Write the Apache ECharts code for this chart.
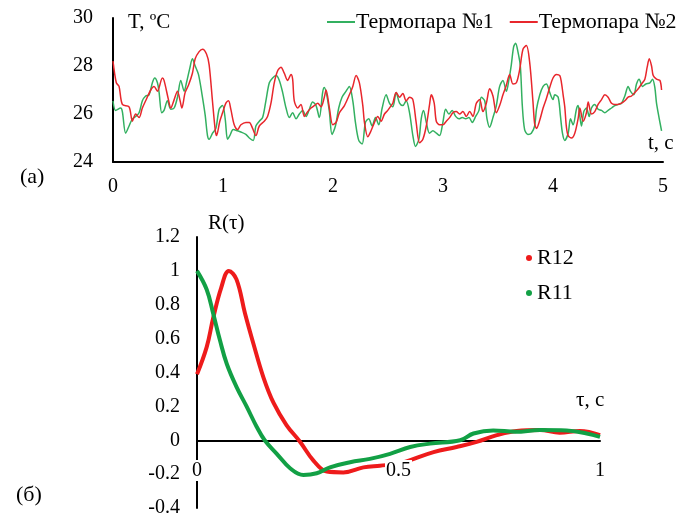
<!DOCTYPE html>
<html>
<head>
<meta charset="utf-8">
<script src="https://cdn.jsdelivr.net/npm/echarts@6/dist/echarts.min.js"></script>
<style>html,body{margin:0;padding:0;background:#fff}#c{width:693px;height:515px}</style>
</head>
<body>
<div id="c"></div>
<script>
// ---- Data ----
const seriesNamesTop = ['Термопара №1', 'Термопара №2'];
const seriesNamesBottom = ['R12', 'R11'];

// Термопара №1 (green): [t, T]
const thermo1 = [[0,26.55],[0.024,26.15],[0.07,26.25],[0.085,26.1],[0.115,25.2],[0.146,25.5],[0.176,25.8],[0.206,25.9],[0.237,26.05],[0.267,26.55],[0.297,26.75],[0.328,26.8],[0.358,27.3],[0.379,27.5],[0.404,27.3],[0.419,26.9],[0.443,26.05],[0.464,26.15],[0.495,26.55],[0.525,26.2],[0.556,26.25],[0.586,26.7],[0.616,27.4],[0.647,26.95],[0.668,27.3],[0.698,27.9],[0.722,28.3],[0.747,28.0],[0.777,27.65],[0.808,26.85],[0.838,25.95],[0.859,25.1],[0.874,24.95],[0.905,25.2],[0.935,25.4],[0.965,26.2],[0.996,26.35],[1.02,25.8],[1.041,24.95],[1.062,25.1],[1.093,25.35],[1.132,25.3],[1.163,25.25],[1.208,25.15],[1.239,25.0],[1.275,24.9],
[1.299,25.5],[1.33,25.7],[1.36,25.85],[1.39,26.55],[1.421,27.3],[1.451,27.5],[1.482,27.6],[1.512,27.4],[1.542,26.9],[1.573,26.25],[1.603,25.85],[1.633,26.05],[1.664,25.8],[1.694,26.0],[1.724,26.15],[1.755,25.9],[1.785,26.2],[1.815,26.5],[1.846,26.35],[1.876,25.85],[1.906,26.9],[1.921,27.1],[1.943,26.8],[1.967,26.1],[1.991,25.15],[2.022,25.5],[2.052,26.25],[2.082,26.7],[2.119,26.95],[2.149,27.15],[2.18,26.55],[2.204,25.65],[2.234,24.9],[2.265,24.75],[2.295,25.65],[2.325,25.8],[2.356,25.5],[2.386,25.85],[2.416,25.55],[2.447,26.25],[2.483,26.8],[2.513,26.45],[2.544,26.3],
[2.574,26.9],[2.605,26.45],[2.635,26.35],[2.665,26.55],[2.696,26.05],[2.726,25.1],[2.75,24.65],[2.781,24.95],[2.802,25.8],[2.823,26.15],[2.848,25.65],[2.878,25.2],[2.908,25.3],[2.939,25.2],[2.969,25.1],[2.999,25.65],[3.024,26.2],[3.054,26.0],[3.084,26.15],[3.115,25.9],[3.145,25.8],[3.175,25.85],[3.206,25.8],[3.236,25.85],[3.266,25.65],[3.297,25.9],[3.327,26.15],[3.348,26.7],[3.379,26.55],[3.4,25.8],[3.424,25.45],[3.454,25.85],[3.485,26.35],[3.515,27.15],[3.545,27.4],[3.576,26.95],[3.6,27.45],[3.621,28.05],[3.642,28.8],[3.66,28.95],[3.681,28.6],[3.703,28.0],[3.721,26.35],[3.742,25.35],[3.772,25.15],[3.803,25.2],[3.833,25.5],
[3.85,26.2],[3.88,26.8],[3.91,27.15],[3.94,27.25],[3.97,26.9],[4.0,26.6],[4.016,26.8],[4.047,26.7],[4.068,25.9],[4.086,25.2],[4.107,24.9],[4.138,25.2],[4.159,25.8],[4.183,25.55],[4.213,26.2],[4.228,26.35],[4.244,25.9],[4.259,25.5],[4.28,26.1],[4.304,26.25],[4.329,25.9],[4.35,26.25],[4.38,26.4],[4.41,26.2],[4.441,26.15],[4.471,26.05],[4.501,26.15],[4.532,26.25],[4.562,26.35],[4.592,26.4],[4.623,26.45],[4.653,26.75],[4.683,27.15],[4.704,26.95],[4.735,26.8],[4.759,27.25],[4.783,27.45],[4.814,27.15],[4.844,27.25],[4.881,27.3],[4.905,27.45],[4.926,27.1],[4.941,26.45],[4.966,25.8],[4.987,25.3]];

// Термопара №2 (red): [t, T]
const thermo2 = [[0,28.2],[0.03,27.3],[0.055,27.15],[0.085,26.4],[0.146,26.3],[0.176,25.7],[0.206,26.0],[0.237,25.85],[0.267,26.25],[0.297,26.55],[0.343,27.0],[0.373,27.15],[0.404,26.95],[0.449,27.5],[0.464,27.4],[0.504,26.6],[0.525,26.25],[0.556,26.6],[0.586,26.95],[0.61,26.55],[0.626,26.25],[0.656,26.9],[0.686,27.2],[0.722,27.7],[0.747,28.3],[0.783,28.6],[0.814,28.7],[0.85,28.5],[0.874,28.05],[0.905,26.5],[0.929,25.35],[0.941,25.1],[0.971,25.7],[0.996,26.05],[1.026,26.45],[1.05,26.55],[1.071,26.2],[1.102,25.55],[1.132,25.35],[1.163,25.55],[1.208,25.65],[1.239,25.65],
[1.269,25.4],[1.299,25.1],[1.33,25.5],[1.375,25.7],[1.405,25.9],[1.436,26.45],[1.466,27.3],[1.497,27.8],[1.527,27.95],[1.557,27.7],[1.588,27.4],[1.618,27.65],[1.633,27.45],[1.648,26.55],[1.679,26.25],[1.709,26.4],[1.739,25.9],[1.77,26.1],[1.8,26.25],[1.83,26.35],[1.861,26.45],[1.891,26.3],[1.921,26.7],[1.937,27.0],[1.967,26.25],[1.998,25.55],[2.028,25.65],[2.058,26.05],[2.104,26.35],[2.149,26.8],[2.18,27.15],[2.21,27.6],[2.24,27.3],[2.271,26.35],[2.286,25.65],[2.316,25.05],[2.346,25.3],[2.377,25.65],[2.407,25.9],[2.437,25.7],[2.468,26.0],[2.498,26.15],[2.529,26.35],
[2.544,26.45],[2.574,26.9],[2.605,26.7],[2.635,26.85],[2.665,26.55],[2.696,26.7],[2.726,26.6],[2.756,25.65],[2.787,24.8],[2.817,24.95],[2.848,25.5],[2.878,26.4],[2.893,26.8],[2.92,26.45],[2.939,25.7],[2.969,25.55],[2.999,25.55],[3.03,25.7],[3.06,25.85],[3.09,26.05],[3.12,26.1],[3.151,26.0],[3.181,26.1],[3.212,25.9],[3.242,26.1],[3.272,25.9],[3.303,26.45],[3.333,26.6],[3.363,26.1],[3.394,26.45],[3.424,27.05],[3.454,26.75],[3.485,26.05],[3.515,26.35],[3.545,26.8],[3.576,27.2],[3.606,27.65],[3.636,27.25],[3.667,27.3],[3.697,27.85],[3.727,28.7],[3.758,28.85],[3.788,28.15],[3.818,26.5],[3.833,25.6],
[3.85,25.4],[3.88,25.75],[3.91,26.25],[3.94,26.65],[3.97,27.1],[4.0,27.5],[4.031,27.65],[4.062,27.6],[4.077,27.3],[4.092,26.8],[4.107,26.3],[4.122,25.45],[4.138,25.1],[4.168,25.0],[4.198,25.2],[4.228,25.8],[4.244,26.25],[4.274,25.7],[4.304,26.05],[4.32,26.5],[4.35,26.0],[4.38,26.1],[4.41,26.4],[4.441,26.6],[4.471,26.8],[4.501,26.7],[4.532,26.45],[4.562,26.4],[4.592,26.4],[4.623,26.45],[4.653,26.55],[4.683,26.7],[4.714,26.75],[4.744,26.9],[4.775,27.05],[4.805,27.25],[4.835,27.45],[4.856,27.95],[4.875,28.3],[4.896,28.0],[4.911,27.6],[4.941,27.45],[4.972,27.4],[4.987,27.0]];

// R12 (red) and R11 (green): [tau, R]
const r12 = [[0,0.39],[0.024,0.55],[0.04,0.72],[0.06,0.9],[0.079,1.0],[0.098,0.95],[0.119,0.75],[0.14,0.57],[0.165,0.37],[0.19,0.22],[0.222,0.09],[0.256,-0.01],[0.289,-0.12],[0.322,-0.185],[0.363,-0.19],[0.413,-0.16],[0.454,-0.15],[0.495,-0.14],[0.52,-0.125],[0.587,-0.07],[0.644,-0.04],[0.694,-0.01],[0.744,0.03],[0.793,0.055],[0.851,0.06],[0.9,0.045],[0.95,0.055],[1.0,0.03]];
const r11 = [[0,1.0],[0.024,0.89],[0.04,0.75],[0.057,0.59],[0.074,0.45],[0.098,0.315],[0.123,0.2],[0.148,0.08],[0.168,0.0],[0.198,-0.08],[0.231,-0.165],[0.264,-0.205],[0.297,-0.195],[0.33,-0.16],[0.38,-0.13],[0.429,-0.11],[0.479,-0.08],[0.529,-0.04],[0.578,-0.02],[0.653,0.0],[0.686,0.04],[0.735,0.058],[0.79,0.05],[0.851,0.06],[0.917,0.058],[0.967,0.04],[1.0,0.02]];

// ---- Chart ----
const FONT = 'Liberation Serif';
const GREEN_T = '#33b060', RED_T = '#e8262c';
const GREEN_R = '#12a045', RED_R = '#ee1b1b';
const axisLineStyle = {lineStyle: {color: '#000', width: 2}};
const lbl = (margin) => ({fontFamily: FONT, fontSize: 20, color: '#000', margin: margin});

const chart = echarts.init(document.getElementById('c'), null, {renderer: 'canvas'});
chart.setOption({
  backgroundColor: '#fff',
  animation: false,
  grid: [
    {left: 113, top: 18, width: 550, height: 144, outerBoundsMode: 'none', containLabel: false},
    {left: 197, top: 237, width: 403, height: 271, outerBoundsMode: 'none', containLabel: false}
  ],
  legend: [
    {
      data: seriesNamesTop, left: 322, top: 6, itemGap: 16,
      icon: 'rect', itemWidth: 28, itemHeight: 2,
      textStyle: {fontFamily: FONT, fontSize: 22, color: '#000', padding: [0, 0, 0, -4]}
    },
    {
      data: seriesNamesBottom, left: 521, top: 242, orient: 'vertical', itemGap: 13,
      icon: 'circle', itemWidth: 6, itemHeight: 6,
      textStyle: {fontFamily: FONT, fontSize: 22, color: '#000'}
    }
  ],
  xAxis: [
    {gridIndex: 0, type: 'value', min: 0, max: 5, interval: 1,
     axisLine: axisLineStyle, axisTick: {show: false}, splitLine: {show: false},
     axisLabel: lbl(15)},
    {gridIndex: 1, type: 'value', min: 0, max: 1, interval: 0.5,
     axisLine: Object.assign({onZero: true}, axisLineStyle), axisTick: {show: false}, splitLine: {show: false},
     axisLabel: {show: false}},
    // label-only axis for the lower chart (labels sit just under the zero line)
    {gridIndex: 1, type: 'value', min: 0, max: 1, interval: 0.5, position: 'bottom', offset: -50, z: 5,
     axisLine: {show: false, onZero: false}, axisTick: {show: false}, splitLine: {show: false},
     axisLabel: Object.assign(lbl(2), {backgroundColor: '#fff', padding: [1, 1, 0, 1]})}
  ],
  yAxis: [
    {gridIndex: 0, type: 'value', min: 24, max: 30, interval: 2,
     axisLine: Object.assign({show: true}, axisLineStyle), axisTick: {show: false}, splitLine: {show: false},
     axisLabel: lbl(20)},
    {gridIndex: 1, type: 'value', min: -0.4, max: 1.2, interval: 0.2,
     axisLine: Object.assign({show: true, onZero: false}, axisLineStyle), axisTick: {show: false}, splitLine: {show: false},
     axisLabel: Object.assign(lbl(17), {formatter: v => String(Math.round(v * 10) / 10)})}
  ],
  series: [
    {name: seriesNamesTop[0], type: 'line', xAxisIndex: 0, yAxisIndex: 0, data: thermo1,
     showSymbol: false, smooth: 0.3, color: GREEN_T, lineStyle: {width: 1.5, color: GREEN_T}},
    {name: seriesNamesTop[1], type: 'line', xAxisIndex: 0, yAxisIndex: 0, data: thermo2,
     showSymbol: false, smooth: 0.3, color: RED_T, lineStyle: {width: 1.5, color: RED_T}},
    {name: seriesNamesBottom[0], type: 'line', xAxisIndex: 1, yAxisIndex: 1, data: r12,
     showSymbol: false, smooth: 0.4, color: RED_R, lineStyle: {width: 4, color: RED_R}},
    {name: seriesNamesBottom[1], type: 'line', xAxisIndex: 1, yAxisIndex: 1, data: r11,
     showSymbol: false, smooth: 0.4, color: GREEN_R, lineStyle: {width: 4, color: GREEN_R}}
  ],
  graphic: [
    {type: 'text', left: 128, top: 12, style: {text: 'T, ºC', font: '21px "Liberation Serif"', fill: '#000'}},
    {type: 'text', left: 648, top: 133, style: {text: 't, c', font: '21px "Liberation Serif"', fill: '#000'}},
    {type: 'text', left: 20, top: 166, style: {text: '(а)', font: '22px "Liberation Serif"', fill: '#000'}},
    {type: 'text', left: 208, top: 213, style: {text: 'R(τ)', font: '21px "Liberation Serif"', fill: '#000'}},
    {type: 'text', left: 576, top: 390, style: {text: 'τ, c', font: '21px "Liberation Serif"', fill: '#000'}},
    {type: 'text', left: 16, top: 484, style: {text: '(б)', font: '22px "Liberation Serif"', fill: '#000'}}
  ]
});
</script>
</body>
</html>
